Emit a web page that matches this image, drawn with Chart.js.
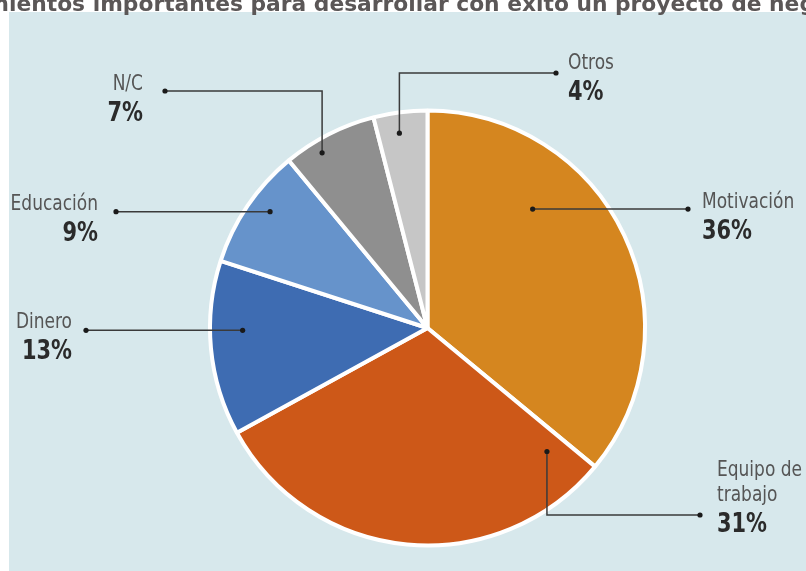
<!DOCTYPE html>
<html>
<head>
<meta charset="utf-8">
<script src="https://cdn.jsdelivr.net/npm/chart.js@4.4.1/dist/chart.umd.min.js"></script>
<style>
  body { margin: 0; background: #ffffff; }
  canvas { display: block; }
</style>
</head>
<body>
<canvas id="grafico1" width="806" height="571"></canvas>
<script>
// ==================== DATOS ====================
const categories = ["Motivación", "Equipo de trabajo", "Dinero", "Educación", "N/C", "Otros"];
const shares = [36, 31, 13, 9, 7, 4];
const labelLines = [["Motivación"], ["Equipo de", "trabajo"], ["Dinero"], ["Educación"], ["N/C"], ["Otros"]];
const sliceColors = ["#d5861f", "#cd5818", "#3e6cb2", "#6693cb", "#8f8f8f", "#c6c6c6"];
const titleText = "Requerimientos importantes para desarrollar con éxito un proyecto de negocio";

// posiciones de las etiquetas (t = fraccion del angulo del sector, r = fraccion del radio)
const callouts = [
  { t: 0.32, r: 0.73, align: "left", dotX: 688, textX: 702, nameY: 208 },
  { t: 0.057, r: 0.79, align: "left", elbowY: 515, dotX: 700, textX: 717, nameY: 476 },
  { t: 0.60, r: 0.85, align: "right", dotX: 86, textX: 72, nameY: 328 },
  { t: 0.57, r: 0.90, align: "right", dotX: 116, textX: 98, nameY: 210 },
  { t: 0.34, r: 0.94, align: "right", elbowY: 91, dotX: 165, textX: 143, nameY: 90 },
  { t: 0.43, r: 0.905, align: "left", elbowY: 73, dotX: 556, textX: 568, nameY: 69 },
];

// texto estrecho (la fuente original es condensada)
function narrowText(ctx, s, x, y, sx) {
  ctx.save();
  ctx.translate(x, y);
  ctx.scale(sx, 1);
  ctx.fillText(s, 0, 0);
  ctx.restore();
}

// ==================== PLUGIN ====================
const fondo = {
  id: "fondo",
  beforeDraw(chart) {
    const ctx = chart.ctx;
    ctx.save();
    ctx.fillStyle = "#d7e8ec";
    ctx.fillRect(9, 12, chart.width - 9, chart.height - 12);

    // titulo (recortado por los bordes, como en el original)
    ctx.font = "bold 20px 'DejaVu Sans'";
    const seg = "ientos importantes para desarrollar con éxito un proyecto de ne";
    const size = 20 * 791 / ctx.measureText(seg).width;
    ctx.font = "bold " + size + "px 'DejaVu Sans'";
    const pre = ctx.measureText("Requerim").width;
    ctx.fillStyle = "#5b5757";
    ctx.textBaseline = "alphabetic";
    ctx.textAlign = "left";
    ctx.fillText(titleText, 9 - pre, 11);
    ctx.restore();
  },
  afterDraw(chart) {
    const ctx = chart.ctx;
    const arcs = chart.getDatasetMeta(0).data;
    ctx.save();
    arcs.forEach((arc, i) => {
      const c = callouts[i];
      const a = arc.startAngle + c.t * (arc.endAngle - arc.startAngle);
      const ax = arc.x + Math.cos(a) * arc.outerRadius * c.r;
      const ay = arc.y + Math.sin(a) * arc.outerRadius * c.r;
      const ly = c.elbowY !== undefined ? c.elbowY : ay;

      ctx.strokeStyle = "#3a3a3a";
      ctx.lineWidth = 1.5;
      ctx.beginPath();
      ctx.moveTo(ax, ay);
      ctx.lineTo(ax, ly);
      ctx.lineTo(c.dotX, ly);
      ctx.stroke();

      ctx.fillStyle = "#1a1a1a";
      [[ax, ay], [c.dotX, ly]].forEach(p => {
        ctx.beginPath();
        ctx.arc(p[0], p[1], 2.6, 0, Math.PI * 2);
        ctx.fill();
      });

      ctx.textAlign = c.align;
      ctx.textBaseline = "alphabetic";
      let y = c.nameY;
      ctx.font = "22px 'DejaVu Sans Condensed', 'DejaVu Sans', sans-serif";
      ctx.fillStyle = "#555555";
      labelLines[i].forEach((s, k) => {
        if (k > 0) y += 25;
        narrowText(ctx, s, c.textX, y, 0.86);
      });
      ctx.font = "bold 27px 'DejaVu Sans Condensed', 'DejaVu Sans', sans-serif";
      ctx.fillStyle = "#2b2b2b";
      narrowText(ctx, shares[i] + "%", c.textX, y + 31, 0.86);
    });
    ctx.restore();
  },
};

// ==================== GRAFICO ====================
const data = {
  labels: categories,
  datasets: [
    {
      data: shares,
      backgroundColor: sliceColors,
      borderColor: "#ffffff",
      borderWidth: 4,
    },
  ],
};

const config = {
  type: "pie",
  data: data,
  options: {
    responsive: false,
    animation: false,
    layout: { padding: { left: 200, right: 151, top: 108.5, bottom: 23.5 } },
    plugins: {
      legend: { display: false },
      tooltip: { enabled: false },
    },
  },
  plugins: [fondo],
};

const grafico1 = new Chart(document.getElementById("grafico1"), config);
</script>
</body>
</html>
